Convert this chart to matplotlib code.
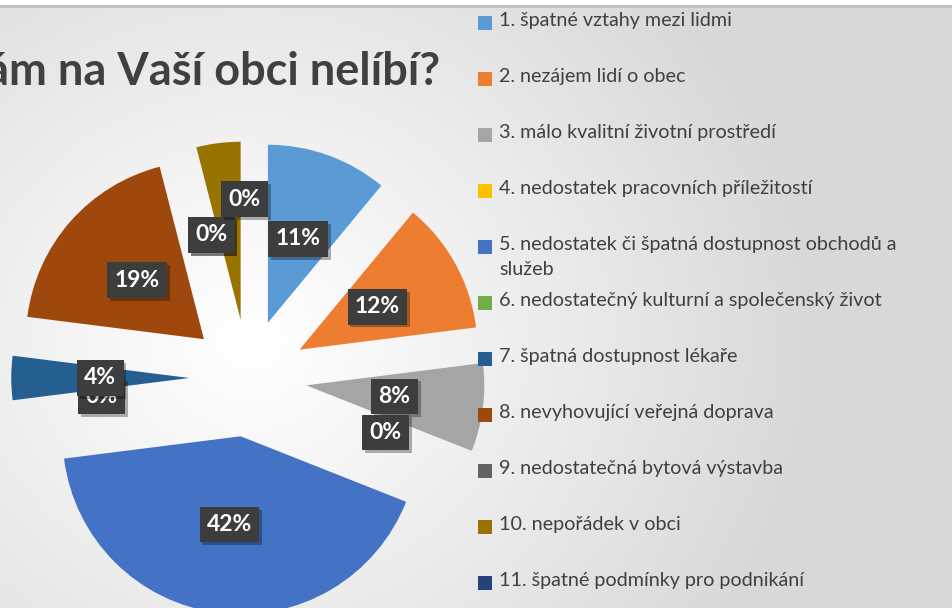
import matplotlib.pyplot as plt
import matplotlib.patheffects as pe
import numpy as np

plt.rcParams['font.family'] = ['Lato', 'DejaVu Sans']

kategorie = ['1. špatné vztahy mezi lidmi',
             '2. nezájem lidí o obec',
             '3. málo kvalitní životní prostředí',
             '4. nedostatek pracovních příležitostí',
             '5. nedostatek či špatná dostupnost obchodů a\nslužeb',
             '6. nedostatečný kulturní a společenský život',
             '7. špatná dostupnost lékaře',
             '8. nevyhovující veřejná doprava',
             '9. nedostatečná bytová výstavba',
             '10. nepořádek v obci',
             '11. špatné podmínky pro podnikání']
podily = [11, 12, 8, 0, 42, 0, 4, 19, 0, 4, 0]
barvy = ['#5B9BD5', '#ED7D31', '#A5A5A5', '#FFC000', '#4472C4', '#70AD47',
         '#255E91', '#9E480E', '#636363', '#997300', '#264478']
titulek = 'Co se Vám na Vaší obci nelíbí?'

W, H = 952, 608
fig = plt.figure(figsize=(W / 100, H / 100), dpi=100)

# pozadi - radialni prechod
bg = fig.add_axes([0, 0, 1, 1], zorder=-10)
yy, xx = np.mgrid[0:H, 0:W]
d = np.sqrt((xx - 250) ** 2 + ((yy - 340) * 1.1) ** 2)
v = 1 - 0.15 * np.clip(d / 560, 0, 1) ** 1.1
img = np.dstack([v, v, v])
img[:5] = 1.0
bg.imshow(img, extent=(0, W, H, 0), aspect='auto', interpolation='bilinear')
bg.plot([0, W], [5.5, 5.5], color='#bfbfbf', lw=2)
bg.set_xlim(0, W)
bg.set_ylim(H, 0)
bg.axis('off')

# kolacovy graf
cx, cy, r = 248, 378, 178
ax_w = 473
ax = fig.add_axes([0, 0, ax_w / W, 1])
wedges, texts, autotexts = ax.pie(podily, colors=barvy, explode=[0.33] * len(podily),
                                  startangle=90, counterclock=False, radius=1,
                                  autopct='%1.0f%%', pctdistance=0.5,
                                  wedgeprops=dict(linewidth=0))
ax.set_xlim(-cx / r, (ax_w - cx) / r)
ax.set_ylim(-(H - cy) / r, cy / r)
ax.set_aspect('auto')
ax.axis('off')

for t in autotexts:
    t.set_color('white')
    t.set_fontsize(16.5)
    t.set_fontweight('bold')
    t.set_bbox(dict(boxstyle='square,pad=0.32', fc='#3d3d3d', ec='none'))
    t.get_bbox_patch().set_path_effects(
        [pe.SimplePatchShadow(offset=(2, -2), shadow_rgbFace='black', alpha=0.3), pe.Normal()])

# prekryvani popisku jako v originale
autotexts[9].set_position(autotexts[8].get_position())
autotexts[9].set_zorder(2)
px, py = autotexts[10].get_position()
autotexts[10].set_position((px - 0.02, py + 0.175))

fig.text(440 / W, 1 - 72 / H, titulek, ha='right', va='center', fontsize=32.5,
         fontweight='bold', color='#404040')

# legenda
for i, (lab, col) in enumerate(zip(kategorie, barvy)):
    ypx = 23 + 56 * i
    fig.patches.append(plt.Rectangle((478 / W, 1 - (ypx + 7) / H), 14 / W, 14 / H,
                                     transform=fig.transFigure, fc=col, ec='none'))
    fig.text(499 / W, 1 - (ypx - 11) / H, lab, ha='left', va='top', fontsize=14.2,
             color='#404040', linespacing=1.55)

fig.savefig('out.png', dpi=100)
